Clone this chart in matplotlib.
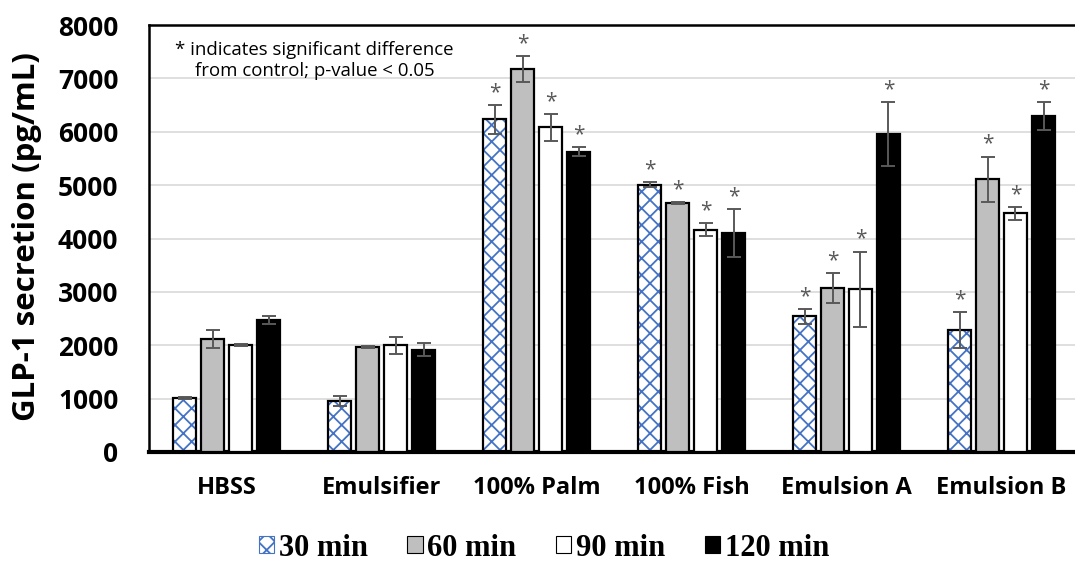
import numpy as np
import matplotlib
matplotlib.use('Agg')
import matplotlib.pyplot as plt
from matplotlib.patches import Patch

# --- Data ---
groups = ["HBSS", "Emulsifier", "100% Palm", "100% Fish", "Emulsion A", "Emulsion B"]
series = ["30 min", "60 min", "90 min", "120 min"]

t30 = [1010, 955, 6230, 5010, 2545, 2285]
t60 = [2110, 1965, 7170, 4670, 3070, 5110]
t90 = [2000, 2000, 6080, 4165, 3050, 4475]
t120 = [2475, 1920, 5625, 4105, 5955, 6300]

e30 = [20, 90, 270, 45, 140, 340]
e60 = [170, 20, 240, 20, 280, 425]
e90 = [15, 160, 245, 120, 705, 120]
e120 = [70, 130, 80, 450, 605, 260]

# significance flags (asterisk above bar)
sig30 = [0, 0, 1, 1, 1, 1]
sig60 = [0, 0, 1, 1, 1, 1]
sig90 = [0, 0, 1, 1, 1, 1]
sig120 = [0, 0, 1, 1, 1, 1]

values = [t30, t60, t90, t120]
errors = [e30, e60, e90, e120]
sigs = [sig30, sig60, sig90, sig120]

# --- Style ---
LABEL_FONT = "Open Sans"
HATCH_BLUE = "#4472C4"
fills = ["white", "#BFBFBF", "white", "black"]
ERR_COLOR = "#595959"

plt.rcParams['hatch.linewidth'] = 1.3

fig = plt.figure(figsize=(10.75, 5.63), dpi=100)
ax = fig.add_axes([149 / 1075, 1 - 452 / 563, (1079 - 149) / 1075, (452 - 25) / 563])

x = np.arange(len(groups))
width = 23 / 155
step = 28 / 155

for i, (vals, errs, sg) in enumerate(zip(values, errors, sigs)):
    pos = x + (i - 1.5) * step
    if i == 0:
        ax.bar(pos, vals, width, color="white", edgecolor=HATCH_BLUE, hatch="xx",
               linewidth=0, zorder=2)
        ax.bar(pos, vals, width, color="none", edgecolor="black", linewidth=1.6, zorder=3)
    else:
        ax.bar(pos, vals, width, color=fills[i], edgecolor="black", linewidth=1.6, zorder=3)
    ax.errorbar(pos, vals, yerr=errs, fmt="none", ecolor=ERR_COLOR, elinewidth=1.4,
                capsize=4.7, capthick=1.4, zorder=4)
    for p, v, e, s in zip(pos, vals, errs, sg):
        if s:
            ax.annotate("*", (p, v + e), xytext=(0, 5), textcoords="offset points",
                        ha="center", va="baseline", fontsize=15, color=ERR_COLOR,
                        family=LABEL_FONT)

ax.set_xlim(-0.5, len(groups) - 0.5)
ax.set_ylim(0, 8000)
ax.set_yticks(np.arange(0, 8001, 1000))
ax.yaxis.grid(True, color="#D9D9D9", linewidth=1.2, zorder=0)
ax.set_axisbelow(True)

ax.set_xticks(x)
ax.set_xticklabels(groups, fontsize=17, fontweight="bold", family=LABEL_FONT)
for lbl in ax.get_yticklabels():
    lbl.set_fontsize(19)
    lbl.set_fontweight("bold")
    lbl.set_family(LABEL_FONT)
ax.tick_params(axis="x", length=0, pad=17)
ax.tick_params(axis="y", length=0, pad=22)

ax.set_ylabel("GLP-1 secretion (pg/mL)", fontsize=22.5, fontweight="bold", family=LABEL_FONT)
ax.yaxis.set_label_coords(-0.115, 0.505)

ax.spines["right"].set_visible(False)
ax.spines["left"].set_linewidth(1.8)
ax.spines["top"].set_linewidth(1.8)
ax.spines["bottom"].set_linewidth(3)

ax.text(0.178, 0.963, "* indicates significant difference\nfrom control; p-value < 0.05",
        transform=ax.transAxes, ha="center", va="top", fontsize=13.4, family=LABEL_FONT,
        linespacing=1.2)

handles = [
    Patch(facecolor="white", edgecolor=HATCH_BLUE, hatch="xx", linewidth=0.8),
    Patch(facecolor=fills[1], edgecolor="black", linewidth=0.8),
    Patch(facecolor=fills[2], edgecolor="black", linewidth=0.8),
    Patch(facecolor=fills[3], edgecolor="black", linewidth=0.8),
]
fig.legend(handles, series, loc="center", bbox_to_anchor=(544 / 1075, 1 - 548 / 563),
           ncol=4, frameon=False, handlelength=0.5, handleheight=0.5, handletextpad=0.15,
           columnspacing=1.3, prop={"family": "Liberation Serif", "weight": "bold", "size": 22})

fig.savefig("out.png", dpi=100)
